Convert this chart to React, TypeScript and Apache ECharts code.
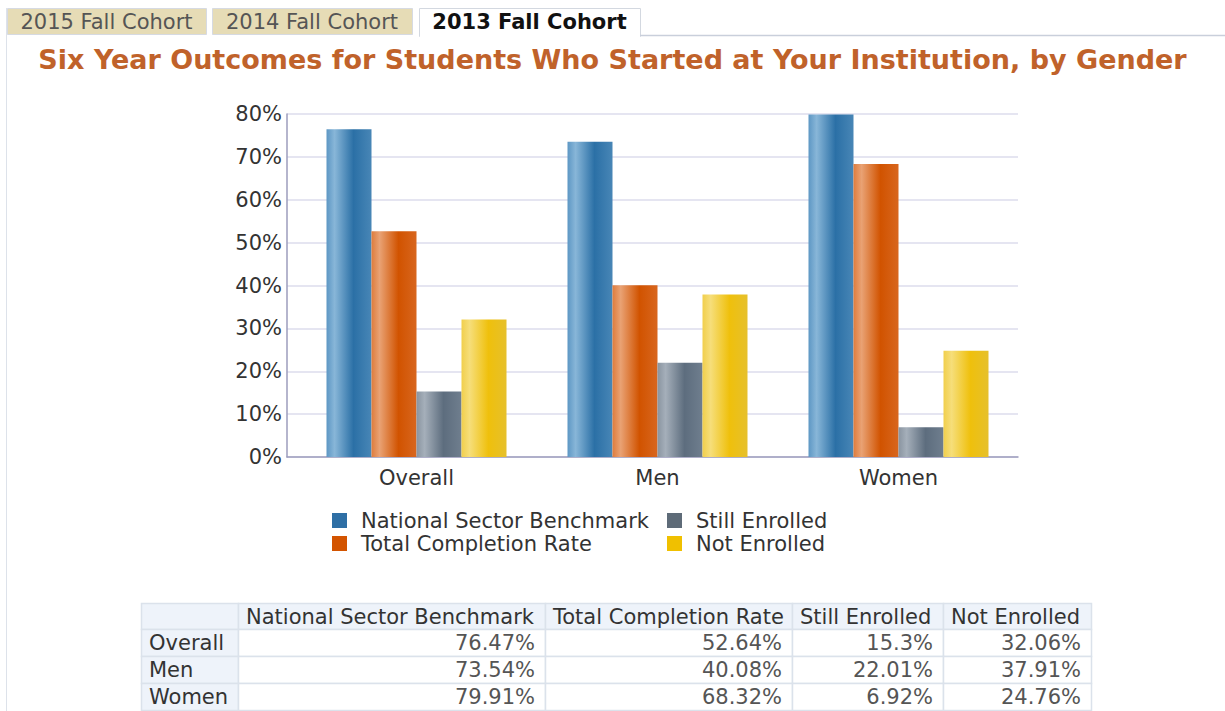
import React, { useEffect, useRef } from 'react';
import * as echarts from 'echarts';

const categories = ['Overall', 'Men', 'Women'];
const seriesNames = ['National Sector Benchmark', 'Total Completion Rate', 'Still Enrolled', 'Not Enrolled'];
const benchmark = [76.47, 73.54, 79.91];
const completion = [52.64, 40.08, 68.32];
const stillEnrolled = [15.3, 22.01, 6.92];
const notEnrolled = [32.06, 37.91, 24.76];
const tabLabels = ['2015 Fall Cohort', '2014 Fall Cohort', '2013 Fall Cohort'];
const titleText = 'Six Year Outcomes for Students Who Started at Your Institution, by Gender';

const FONT = 'DejaVu Sans, Verdana, sans-serif';
const FS = 21;

const solidColors = ['#2e6fa5', '#d35400', '#5e6b78', '#f0c000'];
const gradientStops = [
  ['#5d97c4', '#88b6d8', '#2b70a6', '#4886b6'],
  ['#df7c3c', '#e9a274', '#d15300', '#d8661e'],
  ['#8994a0', '#a5afba', '#5d6d7e', '#6f7e8e'],
  ['#f1cf4c', '#f6de7a', '#efc00c', '#e6c02c'],
];

function grad(c: string[]) {
  return new echarts.graphic.LinearGradient(0, 0, 1, 0, [
    { offset: 0, color: c[0] },
    { offset: 0.18, color: c[1] },
    { offset: 0.6, color: c[2] },
    { offset: 1, color: c[3] },
  ]);
}

function buildGraphics() {
  const els: any[] = [];
  // tabs
  const tabX = [7, 212, 419];
  const tabW = [199, 200, 221];
  tabLabels.forEach((t, i) => {
    const active = i === 2;
    els.push({
      type: 'rect',
      shape: { x: tabX[i] + 0.5, y: 8.5, width: tabW[i], height: active ? 28 : 26 },
      style: { fill: active ? '#ffffff' : '#e6dcb6', stroke: active ? '#d3d8e0' : '#d6dae2', lineWidth: 1 },
      z: 1,
    });
    els.push({
      type: 'text',
      x: tabX[i] + tabW[i] / 2,
      y: 21.5,
      z: 3,
      style: {
        text: t,
        font: `${active ? 'bold ' : ''}${FS}px ${FONT}`,
        fill: active ? '#111111' : '#555555',
        textAlign: 'center', align: 'center',
        textVerticalAlign: 'middle', verticalAlign: 'middle',
      },
    });
  });
  els.push({ type: 'rect', shape: { x: 420, y: 33, width: 220, height: 4 }, style: { fill: '#ffffff' }, z: 2 });
  els.push({ type: 'line', shape: { x1: 640, y1: 35.5, x2: 1225, y2: 35.5 }, style: { stroke: '#c9cfdb', lineWidth: 1.5 }, z: 1 });
  els.push({ type: 'line', shape: { x1: 6.5, y1: 8, x2: 6.5, y2: 711 }, style: { stroke: '#dde2ea', lineWidth: 1 }, z: 1 });

  // table
  const colX = [141, 238, 545, 792, 943, 1091];
  const rowY = [603, 629, 656, 683, 710];
  const header = ['', ...seriesNames];
  const rows = categories.map((c, r) => [c, benchmark[r], completion[r], stillEnrolled[r], notEnrolled[r]]);
  const headBg = '#eef3fa';
  const lineC = '#dbe2eb';
  for (let r = 0; r < 4; r++) {
    for (let c = 0; c < 5; c++) {
      const x = colX[c], y = rowY[r], w = colX[c + 1] - colX[c], h = rowY[r + 1] - rowY[r];
      const isHead = r === 0 || c === 0;
      els.push({
        type: 'rect',
        shape: { x: x + 0.5, y: y + 0.5, width: w, height: h },
        style: { fill: isHead ? headBg : '#ffffff', stroke: lineC, lineWidth: 1.5 },
        z: 1,
      });
      let text = '';
      let align = 'left';
      let tx = x + 8;
      let fill = '#333333';
      if (r === 0) {
        text = header[c] as string;
      } else if (c === 0) {
        text = rows[r - 1][0] as string;
      } else {
        text = `${rows[r - 1][c]}%`;
        align = 'right';
        tx = x + w - 10;
        fill = '#555555';
      }
      if (text) {
        els.push({
          type: 'text',
          x: tx,
          y: y + h / 2 + 0.5,
          z: 3,
          style: {
            text,
            font: `${FS}px ${FONT}`,
            fill,
            textAlign: align, align,
            textVerticalAlign: 'middle', verticalAlign: 'middle',
          },
        });
      }
    }
  }
  return els;
}

export default function App() {
  const ref = useRef<HTMLDivElement>(null);
  useEffect(() => {
    document.body.style.margin = '0';
    const chart = echarts.init(ref.current!, undefined, { renderer: 'svg' });
    const data = [benchmark, completion, stillEnrolled, notEnrolled];
    const legendItem = (i: number) => ({ name: seriesNames[i], itemStyle: { color: solidColors[i] } });
    const legendCommon = {
      orient: 'vertical', top: 505, itemGap: 2, itemWidth: 15, itemHeight: 15,
      icon: 'rect', selectedMode: false,
      textStyle: { fontSize: FS, color: '#333333', fontFamily: FONT, padding: [0, 0, 0, 9] },
    };
    chart.setOption({
      animation: false,
      backgroundColor: '#ffffff',
      textStyle: { fontFamily: FONT },
      title: {
        text: titleText,
        left: 'center',
        top: 41,
        textStyle: { fontFamily: FONT, fontSize: 27, fontWeight: 'bold', color: '#c0622a' },
      },
      legend: [
        { ...legendCommon, left: 327, data: [legendItem(0), legendItem(1)] },
        { ...legendCommon, left: 662, data: [legendItem(2), legendItem(3)] },
      ],
      grid: [
        { left: 287, top: 114, width: 731, height: 343 },
        { left: 296, top: 114, width: 723, height: 343 },
      ],
      xAxis: [
        {
          gridIndex: 0, type: 'value', min: 0, max: 1,
          axisLine: { show: true, lineStyle: { color: '#9d9dbd', width: 1.5 } },
          axisTick: { show: false }, axisLabel: { show: false }, splitLine: { show: false },
        },
        {
          gridIndex: 1, type: 'category', data: categories,
          axisLine: { show: false }, axisTick: { show: false },
          axisLabel: { fontSize: FS, color: '#333333', margin: 10, fontFamily: FONT },
        },
      ],
      yAxis: [
        {
          gridIndex: 0, type: 'value', min: 0, max: 80, interval: 10,
          axisLine: { show: true, lineStyle: { color: '#9d9dbd', width: 1.5 } },
          axisTick: { show: false },
          axisLabel: { formatter: '{value}%', fontSize: FS, color: '#333333', margin: 5, fontFamily: FONT },
          splitLine: { show: true, lineStyle: { color: '#dcdcec', width: 1.5 } },
        },
        { gridIndex: 1, type: 'value', min: 0, max: 80, show: false, splitLine: { show: false } },
      ],
      series: data.map((d, i) => ({
        name: seriesNames[i],
        type: 'bar',
        xAxisIndex: 1,
        yAxisIndex: 1,
        barWidth: 45,
        barGap: '0%',
        data: d,
        itemStyle: { color: grad(gradientStops[i]) },
      })),
      graphic: buildGraphics(),
    });
    return () => chart.dispose();
  }, []);
  return <div ref={ref} style={{ width: 1225, height: 711 }} />;
}
